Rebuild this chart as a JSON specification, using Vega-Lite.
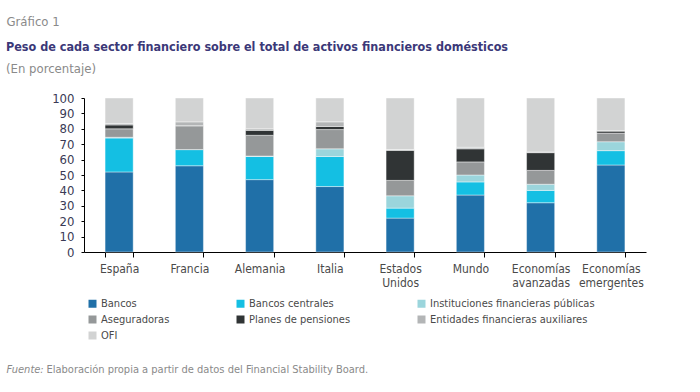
{
  "$schema": "https://vega.github.io/schema/vega-lite/v6.json",
  "width": 562,
  "height": 154,
  "autosize": {"type": "none"},
  "padding": {"left": 84, "top": 98, "right": 54, "bottom": 140},
  "background": "white",
  "config": {
    "font": "DejaVu Sans Condensed, Lato, sans-serif",
    "view": {"stroke": null}
  },
  "title": {
    "text": "Peso de cada sector financiero sobre el total de activos financieros domésticos",
    "subtitle": "(En porcentaje)",
    "anchor": "start",
    "frame": "group",
    "dx": -78,
    "offset": -61,
    "fontSize": 12.5,
    "fontWeight": "bold",
    "color": "#3b3878",
    "subtitleFontSize": 13,
    "subtitleColor": "#8a8a8a",
    "subtitlePadding": 10
  },
  "datasets": {
    "sectores": [
      {"sector": "Bancos", "orden": 1},
      {"sector": "Bancos centrales", "orden": 2},
      {"sector": "Instituciones financieras públicas", "orden": 3},
      {"sector": "Aseguradoras", "orden": 4},
      {"sector": "Planes de pensiones", "orden": 5},
      {"sector": "Entidades financieras auxiliares", "orden": 6},
      {"sector": "OFI", "orden": 7}
    ],
    "datos": [
      {"pais": "España", "sector": "Bancos", "valor": 52},
      {"pais": "España", "sector": "Bancos centrales", "valor": 22},
      {"pais": "España", "sector": "Instituciones financieras públicas", "valor": 0.5},
      {"pais": "España", "sector": "Aseguradoras", "valor": 5.5},
      {"pais": "España", "sector": "Planes de pensiones", "valor": 2.5},
      {"pais": "España", "sector": "Entidades financieras auxiliares", "valor": 1},
      {"pais": "España", "sector": "OFI", "valor": 16.5},
      {"pais": "Francia", "sector": "Bancos", "valor": 56},
      {"pais": "Francia", "sector": "Bancos centrales", "valor": 10.5},
      {"pais": "Francia", "sector": "Instituciones financieras públicas", "valor": 0},
      {"pais": "Francia", "sector": "Aseguradoras", "valor": 15.5},
      {"pais": "Francia", "sector": "Planes de pensiones", "valor": 0},
      {"pais": "Francia", "sector": "Entidades financieras auxiliares", "valor": 2.5},
      {"pais": "Francia", "sector": "OFI", "valor": 15.5},
      {"pais": "Alemania", "sector": "Bancos", "valor": 47},
      {"pais": "Alemania", "sector": "Bancos centrales", "valor": 15},
      {"pais": "Alemania", "sector": "Instituciones financieras públicas", "valor": 0.3},
      {"pais": "Alemania", "sector": "Aseguradoras", "valor": 13.5},
      {"pais": "Alemania", "sector": "Planes de pensiones", "valor": 3.2},
      {"pais": "Alemania", "sector": "Entidades financieras auxiliares", "valor": 1},
      {"pais": "Alemania", "sector": "OFI", "valor": 20},
      {"pais": "Italia", "sector": "Bancos", "valor": 42.5},
      {"pais": "Italia", "sector": "Bancos centrales", "valor": 19.5},
      {"pais": "Italia", "sector": "Instituciones financieras públicas", "valor": 5},
      {"pais": "Italia", "sector": "Aseguradoras", "valor": 12.5},
      {"pais": "Italia", "sector": "Planes de pensiones", "valor": 2},
      {"pais": "Italia", "sector": "Entidades financieras auxiliares", "valor": 3},
      {"pais": "Italia", "sector": "OFI", "valor": 15.5},
      {"pais": "Estados Unidos", "sector": "Bancos", "valor": 22},
      {"pais": "Estados Unidos", "sector": "Bancos centrales", "valor": 6.5},
      {"pais": "Estados Unidos", "sector": "Instituciones financieras públicas", "valor": 8},
      {"pais": "Estados Unidos", "sector": "Aseguradoras", "valor": 10},
      {"pais": "Estados Unidos", "sector": "Planes de pensiones", "valor": 19.5},
      {"pais": "Estados Unidos", "sector": "Entidades financieras auxiliares", "valor": 0.5},
      {"pais": "Estados Unidos", "sector": "OFI", "valor": 33.5},
      {"pais": "Mundo", "sector": "Bancos", "valor": 37},
      {"pais": "Mundo", "sector": "Bancos centrales", "valor": 8.5},
      {"pais": "Mundo", "sector": "Instituciones financieras públicas", "valor": 4.5},
      {"pais": "Mundo", "sector": "Aseguradoras", "valor": 8.5},
      {"pais": "Mundo", "sector": "Planes de pensiones", "valor": 8.5},
      {"pais": "Mundo", "sector": "Entidades financieras auxiliares", "valor": 1},
      {"pais": "Mundo", "sector": "OFI", "valor": 32},
      {"pais": "Economías avanzadas", "sector": "Bancos", "valor": 32},
      {"pais": "Economías avanzadas", "sector": "Bancos centrales", "valor": 8},
      {"pais": "Economías avanzadas", "sector": "Instituciones financieras públicas", "valor": 4},
      {"pais": "Economías avanzadas", "sector": "Aseguradoras", "valor": 9},
      {"pais": "Economías avanzadas", "sector": "Planes de pensiones", "valor": 11.5},
      {"pais": "Economías avanzadas", "sector": "Entidades financieras auxiliares", "valor": 0.5},
      {"pais": "Economías avanzadas", "sector": "OFI", "valor": 35},
      {"pais": "Economías emergentes", "sector": "Bancos", "valor": 56.5},
      {"pais": "Economías emergentes", "sector": "Bancos centrales", "valor": 9.3},
      {"pais": "Economías emergentes", "sector": "Instituciones financieras públicas", "valor": 5.8},
      {"pais": "Economías emergentes", "sector": "Aseguradoras", "valor": 5.6},
      {"pais": "Economías emergentes", "sector": "Planes de pensiones", "valor": 1.3},
      {"pais": "Economías emergentes", "sector": "Entidades financieras auxiliares", "valor": 0.3},
      {"pais": "Economías emergentes", "sector": "OFI", "valor": 21.2}
    ]
  },
  "data": {"name": "datos"},
  "transform": [
    {"lookup": "sector", "from": {"data": {"name": "sectores"}, "key": "sector", "fields": ["orden"]}}
  ],
  "layer": [
    {
      "mark": {"type": "bar", "stroke": "white", "strokeWidth": 0.6, "strokeOpacity": 0.7},
      "encoding": {
        "x": {
          "field": "pais",
          "type": "nominal",
          "sort": ["España", "Francia", "Alemania", "Italia", "Estados Unidos", "Mundo", "Economías avanzadas", "Economías emergentes"],
          "scale": {"paddingInner": 0.6, "paddingOuter": 0.3},
          "axis": {
            "title": "Fuente:",
            "titleFontStyle": "italic",
            "titleFontWeight": "normal",
            "titleFontSize": 11,
            "titleColor": "#8a8a8a",
            "titleAlign": "left",
            "titleBaseline": "alphabetic",
            "titleAnchor": "start",
            "titleX": -78,
            "titleY": 120,
            "labelAngle": 0,
            "labelExpr": "split(datum.label, ' ')",
            "labelFontSize": 12,
            "labelColor": "#4a4a4a",
            "labelPadding": 6,
            "labelLineHeight": 14,
            "domainColor": "#000000",
            "tickColor": "#000000",
            "tickBand": "extent",
            "tickSize": 5
          }
        },
        "y": {
          "field": "valor",
          "type": "quantitative",
          "stack": "zero",
          "scale": {"domain": [0, 100], "nice": false},
          "axis": {
            "title": "Gráfico 1",
            "titleAngle": 0,
            "titleFontWeight": "normal",
            "titleFontSize": 13,
            "titleColor": "#8a8a8a",
            "titleAlign": "left",
            "titleBaseline": "alphabetic",
            "titleX": -78,
            "titleY": -73,
            "values": [0, 10, 20, 30, 40, 50, 60, 70, 80, 90, 100],
            "grid": false,
            "labelFontSize": 13,
            "labelColor": "#3a3a55",
            "labelPadding": 7,
            "domainColor": "#000000",
            "tickColor": "#000000",
            "tickSize": 3
          }
        },
        "order": {"field": "orden", "type": "quantitative", "sort": "ascending"},
        "color": {
          "field": "sector",
          "type": "nominal",
          "scale": {
            "domain": ["Bancos", "Bancos centrales", "Instituciones financieras públicas", "Aseguradoras", "Planes de pensiones", "Entidades financieras auxiliares", "OFI"],
            "range": ["#2070a8", "#14bfe3", "#9bd5dc", "#959899", "#303435", "#b3b5b6", "#d2d3d3"]
          },
          "legend": {
            "orient": "none",
            "direction": "horizontal",
            "legendX": 3,
            "legendY": 200,
            "title": null,
            "columns": 3,
            "gridAlign": "each",
            "columnPadding": 65,
            "rowPadding": 4,
            "symbolType": "square",
            "symbolSize": 64,
            "symbolStrokeWidth": 0,
            "labelFontSize": 11,
            "labelColor": "#4a4a4a",
            "labelOffset": 3,
            "labelLimit": 300,
            "encode": {
              "labels": {"update": {"fontStyle": {"signal": "datum.label === 'OFI' ? 'italic' : 'normal'"}}}
            }
          }
        }
      }
    },
    {
      "mark": {"type": "point", "opacity": 0},
      "encoding": {
        "x": {"field": "pais", "type": "nominal", "sort": ["España", "Francia", "Alemania", "Italia", "Estados Unidos", "Mundo", "Economías avanzadas", "Economías emergentes"]},
        "y": {
          "field": "valor",
          "type": "quantitative",
          "axis": {
            "orient": "right",
            "title": "Elaboración propia a partir de datos del Financial Stability Board.",
            "titleAngle": 0,
            "titleFontWeight": "normal",
            "titleFontSize": 11,
            "titleColor": "#8a8a8a",
            "titleAlign": "left",
            "titleBaseline": "alphabetic",
            "titleX": -600,
            "titleY": 274,
            "labels": false,
            "ticks": false,
            "domain": false,
            "grid": false
          }
        }
      }
    }
  ],
  "resolve": {"scale": {"y": "independent"}, "axis": {"y": "independent"}}
}
